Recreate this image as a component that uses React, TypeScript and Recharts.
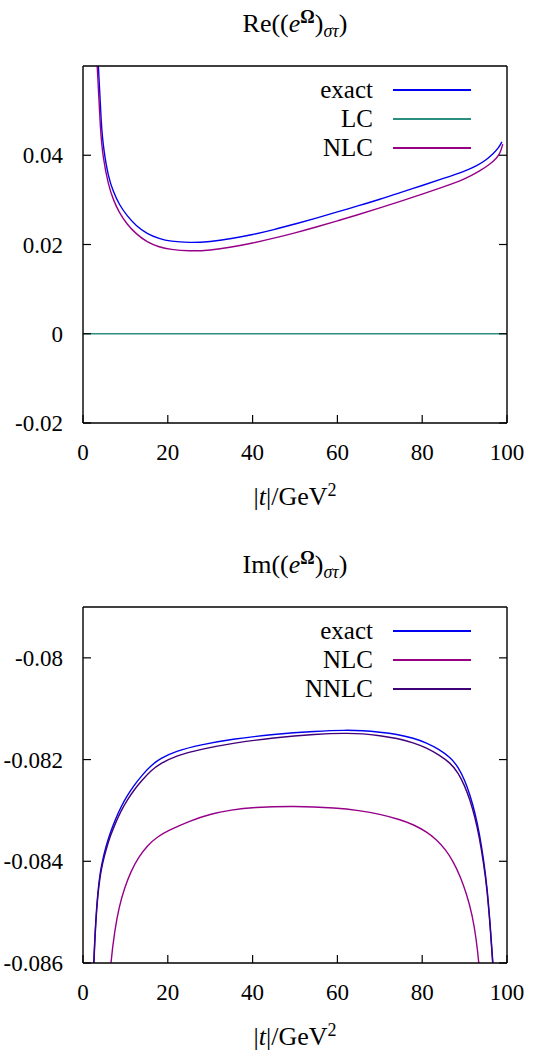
import React from 'react'
import { LineChart, Line, XAxis, YAxis, Legend } from 'recharts'

const xTicks = [0, 20, 40, 60, 80, 100]
const reTicks = [-0.02, 0, 0.02, 0.04]
const imTicks = [-0.086, -0.084, -0.082, -0.08]

// Re part: [|t|, value]
const reExact: [number, number][] = [
  [3.0, 0.07], [3.7, 0.0593], [4.3, 0.0465], [4.9, 0.041], [6.0, 0.035], [7.2, 0.0317],
  [8.5, 0.029], [10.4, 0.0264], [12.5, 0.0242], [15.1, 0.0224], [18, 0.0213], [20.6, 0.0207],
  [25, 0.0204], [30, 0.0206], [35, 0.0213], [40, 0.0222], [45, 0.0233], [50, 0.0246],
  [55, 0.0259], [60, 0.0273], [65, 0.0287], [70, 0.0301], [75, 0.0317], [80, 0.0332],
  [85, 0.0348], [90, 0.0364], [93, 0.0377], [95, 0.0389], [96.8, 0.0404], [98, 0.0416],
  [98.8, 0.043],
]
const reLC: [number, number][] = [[0, 0], [50, 0], [100, 0]]
const reNLC: [number, number][] = [
  [2.9, 0.068], [3.5, 0.0575], [4.1, 0.0455], [4.7, 0.0395], [6.0, 0.0332], [7.2, 0.0299],
  [8.5, 0.0272], [10.4, 0.0245], [12.5, 0.0224], [15.1, 0.0205], [18, 0.0194], [20.6, 0.0189],
  [25, 0.0185], [30, 0.0187], [35, 0.0194], [40, 0.0203], [45, 0.0214], [50, 0.0226],
  [55, 0.0239], [60, 0.0253], [65, 0.0267], [70, 0.0282], [75, 0.0297], [80, 0.0313],
  [85, 0.0329], [90, 0.0346], [93.8, 0.0366], [96, 0.038], [97.5, 0.0393], [98.4, 0.0405],
  [99.0, 0.0425],
]

// Im part
const imExact: [number, number][] = [
  [2.0, -0.0874], [2.5, -0.086], [3.0, -0.08515], [3.5, -0.0846], [4.0, -0.08425], [4.55, -0.084],
  [5.5, -0.08368], [6.5, -0.08342], [7.6, -0.08318], [9, -0.08292], [10.5, -0.0827], [12, -0.08251],
  [14, -0.0823], [16, -0.08212], [18.2, -0.08198], [22, -0.08183], [27.7, -0.08171], [35, -0.0816],
  [45, -0.0815], [55, -0.08144], [62, -0.08142], [66, -0.08143], [70, -0.08146], [74, -0.0815],
  [78, -0.08158], [81, -0.08167], [84, -0.0818], [86.7, -0.08196], [88.5, -0.08215], [90, -0.0824],
  [91.3, -0.0827], [92.4, -0.08303], [93.5, -0.08345], [94.5, -0.08398], [95.3, -0.0845],
  [96.0, -0.0852], [96.7, -0.086], [97.2, -0.0868], [97.5, -0.0875],
]
const imNLC: [number, number][] = [
  [5.6, -0.0871], [6.5, -0.086], [7.5, -0.08535], [8.5, -0.0849], [9.8, -0.08452], [11.3, -0.0842],
  [13, -0.08393], [15.3, -0.08368], [17.5, -0.08352], [20, -0.0834], [25, -0.08321], [30, -0.08307],
  [35, -0.08299], [40, -0.08294], [49.7, -0.08291], [60, -0.08295], [65, -0.083], [70, -0.08307],
  [74.8, -0.08318], [78, -0.08328], [81, -0.08342], [83.5, -0.08358], [85.5, -0.08377], [87.3, -0.084],
  [89, -0.0843], [90.5, -0.08465], [91.8, -0.08505], [92.7, -0.0855], [93.4, -0.086], [94.0, -0.0867],
  [94.3, -0.0872],
]
const imNNLC: [number, number][] = [
  [2.0, -0.0875], [2.5, -0.0861], [3.0, -0.0852], [3.5, -0.08466], [4.0, -0.08431], [4.55, -0.08406],
  [5.5, -0.08375], [6.5, -0.08349], [7.6, -0.08326], [9, -0.083], [10.5, -0.08279], [12, -0.0826],
  [14, -0.0824], [16, -0.08222], [18.2, -0.08208], [22, -0.08192], [27.7, -0.0818], [35, -0.08168],
  [45, -0.08157], [55, -0.0815], [62, -0.08148], [66, -0.08149], [70, -0.08153], [74, -0.08158],
  [78, -0.08167], [81, -0.08177], [84, -0.08191], [86.7, -0.08207], [88.5, -0.08226], [90, -0.08251],
  [91.3, -0.0828], [92.4, -0.08312], [93.5, -0.08353], [94.5, -0.08405], [95.3, -0.08456],
  [96.0, -0.08525], [96.7, -0.08605], [97.2, -0.08685], [97.5, -0.0876],
]

const toRows = (pts: [number, number][]) => pts.map(([t, v]) => ({ t, v }))

const FONT = '"Liberation Serif", "DejaVu Serif", serif'
const FS = 23
const TICK = 8
const C_EXACT = '#0000f0'
const C_LC = '#2a8f80'
const C_NLC = '#960088'
const C_NNLC = '#40007a'

const BottomTick = ({ x, y, payload }: any) => (
  <g>
    <line x1={x} y1={y} x2={x} y2={y - TICK} stroke="#000" strokeWidth={1.2} />
    <text x={x} y={y + 29} dy="0.35em" textAnchor="middle" fontFamily={FONT} fontSize={FS} fill="#000">
      {payload.value}
    </text>
  </g>
)
const TopTick = ({ x, y }: any) => (
  <line x1={x} y1={y} x2={x} y2={y + TICK} stroke="#000" strokeWidth={1.2} />
)
const LeftTick = ({ x, y, payload }: any) => (
  <g>
    <line x1={x} y1={y} x2={x + TICK} y2={y} stroke="#000" strokeWidth={1.2} />
    <text x={x - 20} y={y} dy="0.35em" textAnchor="end" fontFamily={FONT} fontSize={FS} fill="#000">
      {String(payload.value)}
    </text>
  </g>
)
const RightTick = ({ x, y }: any) => (
  <line x1={x} y1={y} x2={x - TICK} y2={y} stroke="#000" strokeWidth={1.2} />
)

type Series = { name: string; color: string; pts: [number, number][] }

const makeLegend = (series: Series[]) => () => (
  <div style={{ fontFamily: FONT, fontSize: 25, color: '#000' }}>
    {series.map((s) => (
      <div key={s.name} style={{ position: 'relative', height: 29 }}>
        <span style={{ position: 'absolute', left: 0, width: 373, top: 0, textAlign: 'right', lineHeight: '30px' }}>
          {s.name}
        </span>
        <span style={{ position: 'absolute', left: 393, width: 78, top: 14, height: 2, background: s.color }} />
      </div>
    ))}
  </div>
)

function Panel({ top, height, mTop, mBottom, domain, ticks, series }: {
  top: number; height: number; mTop: number; mBottom: number
  domain: [number, number]; ticks: number[]; series: Series[]
}) {
  const axisLine = { stroke: '#000', strokeWidth: 1.4 }
  return (
    <div style={{ position: 'absolute', left: 0, top }}>
      <LineChart width={533} height={height} margin={{ top: 0, right: 0, bottom: 0, left: 0 }}>
        <XAxis dataKey="t" type="number" domain={[0, 100]} ticks={xTicks} allowDataOverflow
          height={mBottom} tickSize={0} tickMargin={0} tickLine={false} axisLine={axisLine} tick={<BottomTick />} />
        <XAxis xAxisId="top" orientation="top" type="number" domain={[0, 100]} ticks={xTicks}
          height={mTop} tickSize={0} tickMargin={0} tickLine={false} axisLine={axisLine} tick={<TopTick />} />
        <YAxis type="number" domain={domain} ticks={ticks} allowDataOverflow
          width={83} tickSize={0} tickMargin={0} tickLine={false} axisLine={axisLine} tick={<LeftTick />} />
        <YAxis yAxisId="right" orientation="right" type="number" domain={domain} ticks={ticks} allowDataOverflow
          width={26} tickSize={0} tickMargin={0} tickLine={false} axisLine={axisLine} tick={<RightTick />} />
        <Legend layout="vertical" verticalAlign="middle" align="center" content={makeLegend(series)}
          wrapperStyle={{ top: mTop + 9, left: 0, width: 533, margin: 0 }} />
        {series.map((s) => (
          <Line key={s.name} name={s.name} data={toRows(s.pts)} dataKey="v" type="basis"
            stroke={s.color} strokeWidth={1.4} dot={false} activeDot={false} isAnimationActive={false} />
        ))}
      </LineChart>
    </div>
  )
}

const textBox = (top: number): React.CSSProperties => ({
  position: 'absolute', left: 95, width: 400, top, textAlign: 'center',
  fontFamily: FONT, fontSize: 26, lineHeight: '30px', color: '#000', whiteSpace: 'nowrap',
})

export default function App() {
  const sup: React.CSSProperties = { fontSize: 18, verticalAlign: '0.5em', lineHeight: 0 }
  const sub: React.CSSProperties = { fontSize: 18, verticalAlign: '-0.3em', lineHeight: 0, fontStyle: 'italic' }
  const title = (part: string) => (
    <>
      {part}((<i>e</i><span style={sup}><b>Ω</b></span>)<span style={sub}>στ</span>)
    </>
  )
  const xlabel = (
    <>|<i>t</i>|/GeV<span style={sup}>2</span></>
  )
  return (
    <div style={{ position: 'absolute', left: 0, top: 0, width: 533, height: 1050, background: '#fff' }}>
      <div style={textBox(9)}>{title('Re')}</div>
      <div style={textBox(482)}>{xlabel}</div>
      <div style={textBox(550)}>{title('Im')}</div>
      <div style={textBox(1022)}>{xlabel}</div>
      <Panel top={0} height={500} mTop={66} mBottom={77} domain={[-0.02, 0.06]} ticks={reTicks}
        series={[
          { name: 'exact', color: C_EXACT, pts: reExact },
          { name: 'LC', color: C_LC, pts: reLC },
          { name: 'NLC', color: C_NLC, pts: reNLC },
        ]} />
      <Panel top={540} height={510} mTop={67} mBottom={87} domain={[-0.086, -0.079]} ticks={imTicks}
        series={[
          { name: 'exact', color: C_EXACT, pts: imExact },
          { name: 'NLC', color: C_NLC, pts: imNLC },
          { name: 'NNLC', color: C_NNLC, pts: imNNLC },
        ]} />
    </div>
  )
}
